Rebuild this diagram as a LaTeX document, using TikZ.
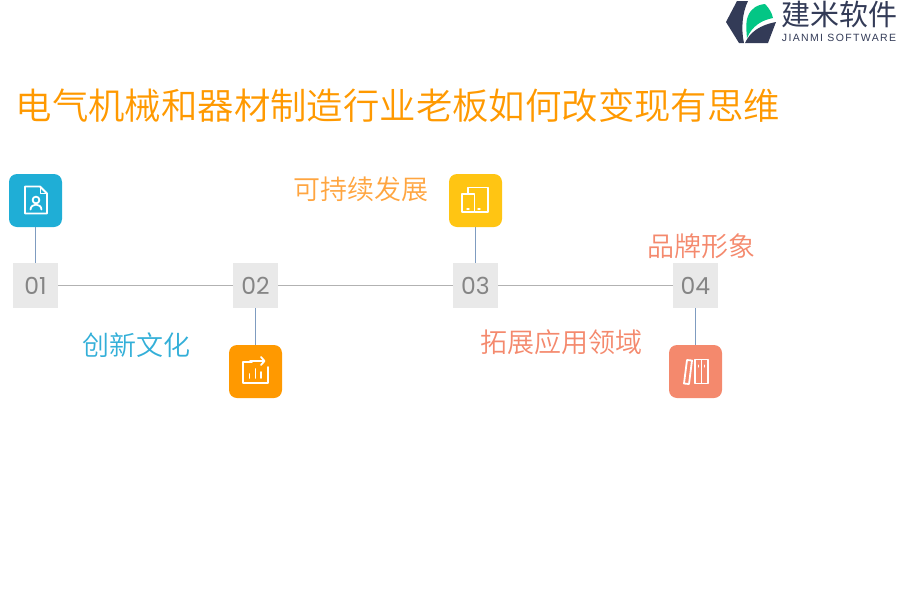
\documentclass[tikz,border=0pt]{standalone}
\usepackage{fontspec}
\setmainfont{Liberation Sans}[LetterSpace=13]
\newfontfamily\cjk{Noto Sans CJK SC DemiLight}
\newfontfamily\cjkr{Noto Sans CJK SC}
\newfontfamily\numf{Poppins}
\definecolor{cblue}{HTML}{1FAED6}
\definecolor{clabblue}{HTML}{33AFD8}
\definecolor{corange}{HTML}{FF9900}
\definecolor{clabor}{HTML}{FFA540}
\definecolor{cyellow}{HTML}{FFC513}
\definecolor{csalmon}{HTML}{F4896D}
\definecolor{cbox}{HTML}{E9E9E9}
\definecolor{cnum}{HTML}{858585}
\definecolor{cnavy}{HTML}{333B57}
\definecolor{cgreen}{HTML}{03C685}
\definecolor{cvline}{HTML}{7F9CC0}
\tikzset{
 x=1pt,y=-1pt,
 numbox/.style={fill=cbox,minimum size=45pt,inner sep=0pt,text=cnum,font=\numf\fontsize{23.5}{24}\selectfont},
 iconbox/.style={rounded corners=8pt,minimum size=53pt,inner sep=0pt},
 vline/.style={draw=cvline,line width=0.8pt},
 hline/.style={draw=black!30,line width=0.9pt},
 glyph/.style={draw=white,line width=1.8pt,line join=round,line cap=round},
 lab/.style={inner sep=0pt,font=\cjk\fontsize{27}{27}\selectfont,anchor=center},
}
\begin{document}
\begin{tikzpicture}
\useasboundingbox (0,0) rectangle (900,600);
\node[inner sep=0pt,text=corange,font=\cjk\fontsize{36.4}{36.4}\selectfont] (title) at (398,106) {电气机械和器材制造行业老板如何改变现有思维};
\node[numbox] (n1) at (35.5,285.5) {01};
\node[numbox] (n2) at (255.5,285.5) {02};
\node[numbox] (n3) at (475.5,285.5) {03};
\node[numbox] (n4) at (695.5,285.5) {04};
\node[iconbox,fill=cblue] (i1) at (35.5,200.5) {};
\node[iconbox,fill=corange] (i2) at (255.5,371.5) {};
\node[iconbox,fill=cyellow] (i3) at (475.5,200.5) {};
\node[iconbox,fill=csalmon] (i4) at (695.5,371.5) {};
\draw[hline] (n1) -- (n2);
\draw[hline] (n2) -- (n3);
\draw[hline] (n3) -- (n4);
\draw[vline] (i1) -- (n1);
\draw[vline] (n2) -- (i2);
\draw[vline] (i3) -- (n3);
\draw[vline] (n4) -- (i4);
\node[lab,text=clabblue] (l1) at (136.5,345) {创新文化};
\node[lab,text=clabor] (l2) at (361,189) {可持续发展};
\node[lab,text=csalmon] (l3) at (561,342) {拓展应用领域};
\node[lab,text=csalmon] (l4) at (701,246) {品牌形象};
% icon 1
\draw[glyph] (25,186.5) -- (40,186.5) -- (47,193.5) -- (47,213.5) -- (25,213.5) -- cycle;
\draw[glyph,line width=1pt] (40,187) -- (40,193.5) -- (46.5,193.5);
\draw[glyph] (36,200) circle (3.4);
\draw[glyph] (30.5,209.5) .. controls (31,203) and (41,203) .. (41.5,209.5);
% icon 2
\draw[glyph] (252,362) -- (243,362) -- (243,383) -- (268,383) -- (268,367);
\draw[glyph] (250,361) -- (264,361);
\draw[glyph] (261,357) -- (264.5,361) -- (261,365);
\draw[glyph] (249.5,374) -- (249.5,378);
\draw[glyph] (255.5,369) -- (255.5,378);
\draw[glyph] (261,372) -- (261,378);
% icon 3
\draw[glyph] (468,193.5) -- (468,187.5) -- (488,187.5) -- (488,212) -- (475,212);
\draw[glyph] (462,194) -- (474.5,194) -- (474.5,212) -- (462,212) -- cycle;
\draw[glyph,line width=1.4pt] (467,209) -- (469,209);
\draw[glyph,line width=1.4pt] (478,209) -- (480,209);
% icon 4
\draw[glyph] (687,360) -- (692,360.5) -- (689,384) -- (684,383.5) -- cycle;
\draw[glyph] (695,359.5) -- (708,359.5) -- (708,383.5) -- (695,383.5) -- cycle;
\draw[glyph,line width=1pt] (701.5,359.5) -- (701.5,383.5);
\draw[glyph,line width=1pt] (698.5,365) -- (698.5,367);
\draw[glyph,line width=1pt] (704.5,365) -- (704.5,367);
% logo
\fill[cnavy] (737,1) -- (748,1) .. controls (742,13) and (741,30) .. (744,43) -- (739,43) -- (726,22) -- cycle;
\fill[cgreen] (747,38) .. controls (746,28) and (746,20) .. (748,16) .. controls (751,9) and (756,5) .. (765,4) .. controls (769,8) and (772,13) .. (773,18) .. controls (762,20) and (752,26) .. (747,38) -- cycle;
\fill[cnavy] (745,43) .. controls (750,32) and (760,25) .. (776,22) -- (768,43) -- cycle;
\node[inner sep=0pt,text=cnavy,font=\cjkr\fontsize{29}{29}\selectfont] (lg1) at (839.5,14) {建米软件};
\node[inner sep=0pt,text=cnavy,font=\fontsize{10.5}{10.5}\selectfont] (lg2) at (839,38) {JIANMI SOFTWARE};
\end{tikzpicture}
\end{document}
